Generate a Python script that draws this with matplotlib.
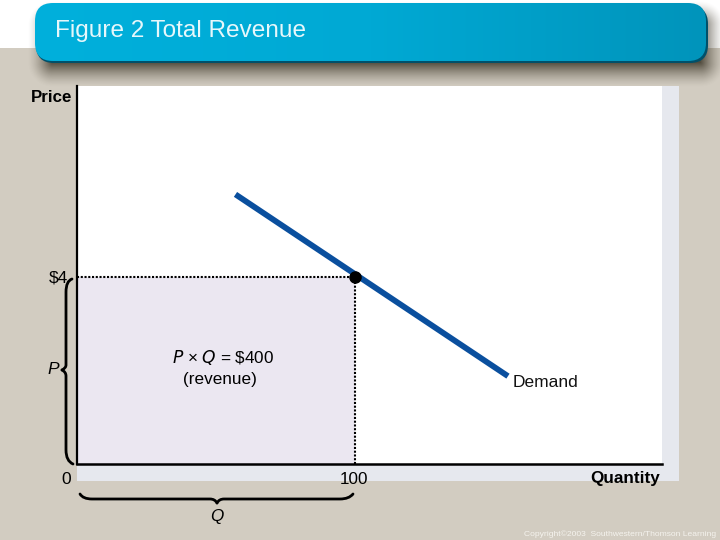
import numpy as np
import matplotlib
matplotlib.use("Agg")
import matplotlib.pyplot as plt
from matplotlib.patches import FancyBboxPatch, PathPatch, Rectangle
from matplotlib.path import Path
from matplotlib.colors import LinearSegmentedColormap

# values
demand_q = [57, 155]
demand_p = [5.77, 1.88]
point_q = 100
point_p = 4
x_max = 210.4
y_max = 8.09
y_tick_labels = ["$4", "P", "0"]

plt.rcParams['font.family'] = ['Liberation Sans', 'DejaVu Sans']

BEIGE = "#d2ccc1"
fig = plt.figure(figsize=(7.2, 5.4), dpi=100, facecolor="white")

# background layer in pixel coordinates, y down
bg = fig.add_axes([0, 0, 1, 1])
bg.axis("off")
bg.add_patch(Rectangle((0, 48), 720, 492, fc=BEIGE, ec="none"))

# soft shadow around the title bar, stronger towards the bottom
yy, xx = np.mgrid[0:100, 0:720]
dx = np.maximum(np.maximum(52 - xx, xx - 700), 0)
dy = np.maximum(np.maximum(25 - yy, yy - 62), 0)
dist = np.hypot(dx, dy)
shadow = np.zeros((100, 720, 4))
shadow[..., :3] = (0.2, 0.18, 0.12)
shadow[..., 3] = 0.8 * np.clip(1 - dist / 25, 0, 1) ** 1.5
bg.imshow(shadow, extent=(0, 720, 100, 0), aspect="auto", zorder=1)

# title bar with a left to right gradient, dark edge only shows below and on the right
EDGE = 18
bar = FancyBboxPatch((36 + EDGE, 6 + EDGE), 672 - 2 * EDGE, 57 - 2 * EDGE,
                     boxstyle=f"round,pad={EDGE},rounding_size={EDGE}", fc="#00506a", ec="none",
                     zorder=2)
bg.add_patch(bar)
blue = LinearSegmentedColormap.from_list("b", ["#00b0dc", "#00a9d4", "#0094bb"])
img = bg.imshow(np.linspace(0, 1, 256).reshape(1, -1), extent=(35, 707, 61, 3), cmap=blue,
                aspect="auto", zorder=3)
inner = FancyBboxPatch((35 + EDGE, 3 + EDGE), 671 - 2 * EDGE, 58 - 2 * EDGE,
                       boxstyle=f"round,pad={EDGE},rounding_size={EDGE}", fc="none", ec="none",
                       transform=bg.transData)
bg.add_patch(inner)
img.set_clip_path(inner)
bg.set_xlim(0, 720)
bg.set_ylim(540, 0)
bg.text(55, 31, "Figure 2 Total Revenue", color="#e6f7fb", fontsize=17.6, va="center", zorder=4)

# light strip behind the plot panel
bg.add_patch(Rectangle((77, 86), 602, 395, fc="#e6e8ee", ec="none", zorder=2))


def brace(points, lw=2.0):
    codes = [Path.MOVETO] + [Path.CURVE3, Path.CURVE3] * ((len(points) - 1) // 2)
    bg.add_patch(PathPatch(Path(points, codes), fc="none", ec="black", lw=lw, zorder=5,
                           capstyle="round"))


# vertical brace next to the y axis
brace([(72, 279), (66, 281), (66, 292), (66, 292), (66, 365), (66, 368), (62, 370)])
brace([(62, 370), (66, 372), (66, 376), (66, 376), (66, 450), (66, 461), (73, 464)])
# horizontal brace under the x axis
brace([(80, 494), (83, 499), (92, 499), (92, 499), (210, 499), (215, 499), (217, 503)])
brace([(217, 503), (219, 499), (224, 499), (224, 499), (340, 499), (349, 499), (353, 494)])

# chart itself
ax = fig.add_axes([77 / 720, 1 - 464 / 540, 585 / 720, 378 / 540])
ax.set_xlim(0, x_max)
ax.set_ylim(0, y_max)
ax.set_facecolor("white")
for side in ("top", "right"):
    ax.spines[side].set_visible(False)
ax.spines["left"].set_linewidth(1.6)
ax.spines["bottom"].set_linewidth(1.8)
ax.set_xticks([])
ax.set_yticks([])

ax.fill_between([0, point_q], 0, point_p, color="#ebe7f1", lw=0)
ax.plot([0, point_q], [point_p, point_p], color="black", lw=1.5, ls=(0, (1, 0.8)))
ax.plot([point_q, point_q], [0, point_p], color="black", lw=1.5, ls=(0, (1, 0.8)))
ax.plot(demand_q, demand_p, color="#0a4f9e", lw=4.2, solid_capstyle="butt")
ax.plot([point_q], [point_p], "o", color="black", ms=8, zorder=5)

ax.text(52.5, 2.28, "$\\mathit{P}$ × $\\mathit{Q}$ = \\$400", fontsize=12.3, ha="center", va="center",
        math_fontfamily="dejavusans")
ax.text(51.5, 1.8, "(revenue)", fontsize=12.3, ha="center", va="center")
ax.text(156.5, 1.74, "Demand", fontsize=12.5, ha="left", va="center", color="#111111")

# labels around the axes
bg.text(72, 97, "Price", fontsize=12.2, fontweight="bold", ha="right", va="center", zorder=5)
bg.text(68, 278, y_tick_labels[0], fontsize=12.5, ha="right", va="center", zorder=5)
bg.text(59, 370, y_tick_labels[1], fontsize=12.5, style="italic", ha="right", va="center", zorder=5)
bg.text(71, 479, y_tick_labels[2], fontsize=12.5, ha="right", va="center", zorder=5)
bg.text(354, 479, str(point_q), fontsize=12.3, ha="center", va="center", zorder=5)
bg.text(660, 479, "Quantity", fontsize=12.3, fontweight="bold", ha="right", va="center", zorder=5)
bg.text(217, 516, "Q", fontsize=12.3, style="italic", ha="center", va="center", zorder=5)
bg.text(716, 534, "Copyright©2003  Southwestern/Thomson Learning", fontsize=6.1, color="#f5f3ee",
        ha="right", va="center", zorder=5)

fig.savefig("out.png", dpi=100)
plt.close(fig)
